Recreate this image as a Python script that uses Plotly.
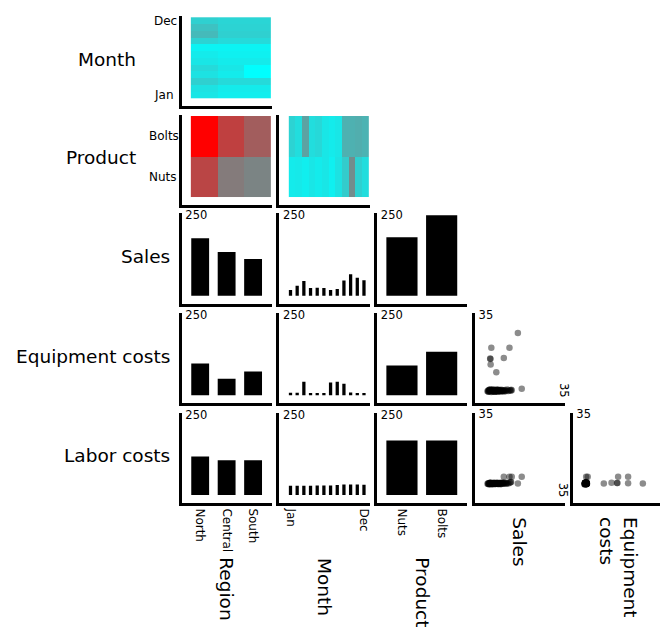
import plotly.graph_objects as go

FIG_W, FIG_H = 665, 629
FONT = "DejaVu Sans"

# ---------------- data ----------------
regions = ["North", "Central", "South"]
months = ["Jan", "Feb", "Mar", "Apr", "May", "Jun", "Jul", "Aug", "Sep", "Oct", "Nov", "Dec"]
products = ["Nuts", "Bolts"]

row_vars = ["Month", "Product", "Sales", "Equipment costs", "Labor costs"]
col_vars = ["Region", "Month", "Product", "Sales", "Equipment<br>costs"]

# summed values (bar panels)
sales_by_region = [179, 136, 114]
sales_by_month = [18, 31, 46, 24, 25, 24, 18, 21, 47, 67, 56, 48]
sales_by_product = [182, 250]
equip_by_region = [99, 52, 74]
equip_by_month = [8, 8, 42, 7, 7, 7, 40, 42, 36, 9, 7, 7]
equip_by_product = [93, 136]
labor_by_region = [120, 108, 108]
labor_by_month = [29, 29, 29, 29, 30, 30, 30, 31, 33, 33, 33, 32]
labor_by_product = [170, 170]

# summed sales shown as colour (heat panels)
heat_month_region = [  # rows Jan..Dec, cols North, Central, South
    [10, 7, 7],
    [12, 8, 8],
    [19, 15, 15],
    [12, 8, 0.5],
    [15, 10, 0.5],
    [10, 8, 8],
    [8, 6, 6],
    [5, 5, 5],
    [18, 15, 15],
    [28, 19, 19],
    [25, 18, 18],
    [19, 17, 17],
]
heat_product_region = [  # rows Nuts, Bolts
    [76, 54, 50],
    [104, 78, 66],
]
heat_product_month = [  # rows Nuts, Bolts
    [8, 9, 7, 10, 8, 10, 6, 12, 21, 47, 19, 14],
    [18, 14, 38, 14, 16, 10, 8, 10, 32, 32, 33, 31],
]
heat_max = 104

# individual records (scatter panels)
sales_pts = [15.0, 3.3, 11.3, 2.8, 2.9, 3.0, 8.8, 5.5, 16.7, 12.3, 12.0,
             1.6, 1.9, 2.1, 2.3, 2.4, 2.6, 2.8, 3.0, 3.1, 3.3,
             3.5, 3.6, 3.8, 4.0, 4.1, 4.3, 4.5, 4.6, 4.8, 5.0,
             5.1, 5.3, 5.5, 5.6, 5.8, 6.0, 6.1, 6.3, 6.5, 6.7,
             6.9, 7.0, 7.2, 7.4, 7.6, 7.8, 8.0, 8.2, 8.5, 8.8,
             9.0, 9.3, 9.6, 9.9, 10.3, 10.8, 11.4, 11.8,
             2.0, 2.9, 3.9, 4.4, 5.2, 6.2, 7.1, 8.1, 3.4, 4.9, 5.7, 6.6, 2.5]
equip_pts = [27.0, 20.5, 20.5, 15.8, 15.6, 13.2, 16.1, 9.8, 2.7, 2.0, 2.2,
             1.6, 1.9, 1.4, 2.1, 1.7, 2.3, 1.5, 1.8, 2.0, 1.3,
             2.2, 1.7, 1.9, 1.5, 2.4, 1.6, 1.8, 2.0, 1.4, 2.1,
             1.7, 1.9, 1.5, 2.2, 1.6, 1.8, 2.3, 1.4, 1.9, 2.0,
             1.7, 1.5, 2.1, 1.8, 1.6, 2.2, 1.9, 1.7, 2.0, 1.5,
             1.8, 2.1, 1.6, 1.9, 2.3, 1.7, 2.0, 1.8,
             1.5, 2.2, 1.6, 1.9, 1.7, 2.1, 1.8, 1.6, 2.0, 1.4, 1.9, 1.7, 2.1]
labor_pts = [4.8, 4.9, 7.8, 5.0, 5.0, 5.1, 7.8, 4.8, 7.8, 7.8, 5.5,
             4.7, 4.9, 4.5, 5.0, 4.8, 4.6, 5.1, 4.7, 4.9, 4.4,
             4.8, 5.0, 4.6, 4.9, 4.7, 5.2, 4.8, 4.5, 5.0, 4.7,
             4.9, 4.6, 5.1, 4.8, 4.7, 5.0, 4.9, 4.6, 4.8, 5.2,
             4.7, 4.9, 4.5, 5.0, 4.8, 4.6, 5.1, 4.9, 4.7, 5.0,
             4.8, 5.3, 4.9, 4.7, 5.0, 4.8, 5.2, 5.4,
             4.6, 4.9, 4.7, 5.0, 4.8, 4.6, 4.9, 5.1, 4.7, 4.8, 5.0, 4.9, 4.6]

bar_max_label = 250
scatter_max_label = 35

# ---------------- geometry (pixels) ----------------
col_left = [183, 281.5, 380, 478.5, 577]
row_bottom = [102, 201.5, 301, 401.5, 502]
CELL = 91


def lin(pa_, pb_, p0, v0, p1, v1):
    s = (v1 - v0) / (p1 - p0)
    return [v0 + (pa_ - p0) * s, v0 + (pb_ - p0) * s]


fig = go.Figure()
layout = dict(
    width=FIG_W, height=FIG_H, autosize=False,
    margin=dict(l=0, r=0, t=0, b=0),
    paper_bgcolor="white", plot_bgcolor="white",
    showlegend=False,
    font=dict(family=FONT, color="black", size=12),
    annotations=[],
)

cell_id = [0]


def add_cell(r, c, traces, xmap, ymap, xax_extra=None, yax_extra=None):
    cell_id[0] += 1
    k = cell_id[0]
    L = col_left[c]
    R = min(L + CELL, FIG_W)
    B = row_bottom[r]
    T = B - CELL
    xr = lin(L, R, *xmap(L))
    yr = lin(B, T, *ymap(B))
    base = dict(showline=True, linecolor="black", linewidth=3, showgrid=False,
                zeroline=False, ticks="", fixedrange=True, showticklabels=False)
    xa = dict(base, domain=[L / FIG_W, R / FIG_W], range=xr, anchor="y%d" % k)
    ya = dict(base, domain=[1 - B / FIG_H, 1 - T / FIG_H], range=yr, anchor="x%d" % k)
    if xax_extra:
        xa.update(xax_extra)
    if yax_extra:
        ya.update(yax_extra)
    layout["xaxis%s" % ("" if k == 1 else k)] = xa
    layout["yaxis%s" % ("" if k == 1 else k)] = ya
    for t in traces:
        t.update(xaxis="x%d" % k, yaxis="y%d" % k)
        fig.add_trace(t)
    return k


heat_scale = [[0, "rgb(0,255,255)"], [1, "rgb(255,0,0)"]]


def heat(z, x, y):
    return go.Heatmap(z=z, x=x, y=y, colorscale=heat_scale, zmin=0, zmax=heat_max,
                      showscale=False, hoverinfo="skip")


def heat_x(n):
    return lambda L: (L + 9.3, -0.5, L + 89.8, n - 0.5)


def heat_y(n):
    return lambda B: (B - 8.2, -0.5, B - 89.6, n - 0.5)


# bar layout per categorical column: (first centre offset, step, width px)
bar_geom = {
    "Region": (18.7, 26.65, 18.0),
    "Month": (11.2, 6.73, 3.3),
    "Product": (25.0, 40.0, 31.4),
}
col_cats = {"Region": regions, "Month": months, "Product": products}

bar_y = lambda B: (B - 8, 0, B - 89, bar_max_label)
sc_x = lambda L: (L + 9, 0, L + 89, scatter_max_label)
sc_y = lambda B: (B - 8.5, 0, B - 89.5, scatter_max_label)

inside_y = lambda v: dict(showticklabels=True, tickmode="array", tickvals=[v], ticktext=[str(v)],
                          ticklabelposition="inside", ticklabeloverflow="allow",
                          ticklabelstandoff=3,
                          tickfont=dict(size=11.5, color="black"))
inside_x = lambda v: dict(showticklabels=True, tickmode="array", tickvals=[v], ticktext=[str(v)],
                          ticklabelposition="inside", ticklabeloverflow="allow", tickangle=90,
                          ticklabelstandoff=1,
                          tickfont=dict(size=11.5, color="black"))

# Row 0: Month vs Region (heat)
add_cell(0, 0, [heat(heat_month_region, regions, months)], heat_x(3), heat_y(12))
# Row 1: Product vs Region, Product vs Month
add_cell(1, 0, [heat(heat_product_region, regions, products)], heat_x(3), heat_y(2))
add_cell(1, 1, [heat(heat_product_month, months, products)],
         lambda L: (L + 9.5, -0.5, L + 90.2, 11.5), heat_y(2))

bar_data = {
    2: {"Region": sales_by_region, "Month": sales_by_month, "Product": sales_by_product},
    3: {"Region": equip_by_region, "Month": equip_by_month, "Product": equip_by_product},
    4: {"Region": labor_by_region, "Month": labor_by_month, "Product": labor_by_product},
}
for r in (2, 3, 4):
    for c, name in enumerate(["Region", "Month", "Product"]):
        off, step, wpx = bar_geom[name]
        cats = col_cats[name]
        tr = go.Bar(x=cats, y=bar_data[r][name], width=wpx / step,
                    marker=dict(color="black", line=dict(width=0)), hoverinfo="skip")
        xextra = None
        if r == 4:
            tv = ["Jan", "Dec"] if name == "Month" else cats
            xextra = dict(showticklabels=True, tickmode="array", tickvals=tv, ticktext=tv,
                          tickangle=90, tickfont=dict(size=12, color="black"))
        add_cell(r, c, [tr],
                 (lambda o, s: (lambda L: (L + o, 0, L + o + s, 1)))(off, step),
                 bar_y, xax_extra=xextra, yax_extra=inside_y(bar_max_label))

marker = dict(size=6.5, color="rgba(0,0,0,0.45)", line=dict(width=0))
add_cell(3, 3, [go.Scatter(x=sales_pts, y=equip_pts, mode="markers", marker=marker, hoverinfo="skip")],
         sc_x, sc_y, xax_extra=inside_x(scatter_max_label), yax_extra=inside_y(scatter_max_label))
add_cell(4, 3, [go.Scatter(x=sales_pts, y=labor_pts, mode="markers", marker=marker, hoverinfo="skip")],
         sc_x, sc_y, xax_extra=inside_x(scatter_max_label), yax_extra=inside_y(scatter_max_label))
add_cell(4, 4, [go.Scatter(x=equip_pts, y=labor_pts, mode="markers", marker=marker, hoverinfo="skip")],
         sc_x, sc_y, xax_extra=inside_x(scatter_max_label), yax_extra=inside_y(scatter_max_label))

# ---------------- text ----------------
TITLE_SIZE = 18.5
anns = layout["annotations"]
row_title_right = [139, 139, 173, 173, 173]
for r, name in enumerate(row_vars):
    B = row_bottom[r]
    anns.append(dict(text=name, xref="paper", yref="paper", x=row_title_right[r] / FIG_W,
                     y=1 - (B - 47.5) / FIG_H, xanchor="right", yanchor="middle",
                     showarrow=False, font=dict(size=TITLE_SIZE, family=FONT, color="black")))
for c, name in enumerate(col_vars):
    L = col_left[c]
    top_px = 555 if c < 3 else 514
    anns.append(dict(text=name, xref="paper", yref="paper", x=(L + CELL / 2) / FIG_W,
                     y=1 - top_px / FIG_H, xanchor="center", yanchor="top", textangle=90,
                     align="left", showarrow=False,
                     font=dict(size=TITLE_SIZE, family=FONT, color="black")))

# left tick labels of the heat panels (left aligned)
for lab in ["Dec", "Jan"]:
    anns.append(dict(text=lab, xref="paper", yref="y", x=153 / FIG_W, y=months.index(lab),
                     xanchor="left", yanchor="middle", showarrow=False,
                     font=dict(size=12, family=FONT, color="black")))
for lab in ["Bolts", "Nuts"]:
    anns.append(dict(text=lab, xref="paper", yref="y2", x=148 / FIG_W, y=products.index(lab),
                     xanchor="left", yanchor="middle", showarrow=False,
                     font=dict(size=12, family=FONT, color="black")))

fig.update_layout(**layout)
fig.write_html("out.html", config={"displayModeBar": False},
               post_script="document.body.style.margin='0';document.body.style.overflow='hidden';")
